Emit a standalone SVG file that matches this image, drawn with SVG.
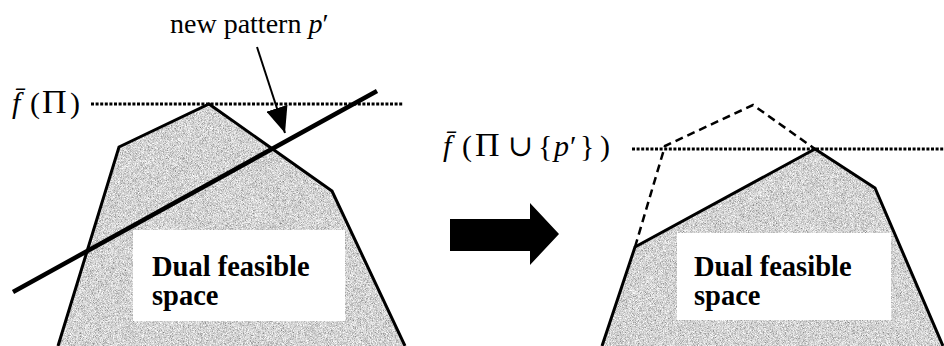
<svg xmlns="http://www.w3.org/2000/svg" width="944" height="346" viewBox="0 0 944 346">
  <style>
    text { font-family: "Liberation Serif", "DejaVu Serif", "Times New Roman", serif; fill: #000; }
    .math { font-size: 30px; }
    .big { font-size: 34px; }
    .it { font-style: italic; }
    .lbl { font-size: 28px; }
    .box { fill: #fff; }
    .boxtxt { font-size: 28.5px; font-weight: bold; }
    .region { fill: #a8a8a8; filter: url(#grain); }
    .edge { fill: none; stroke: #000; stroke-width: 3; stroke-linejoin: miter; }
    .dotted { stroke: #000; stroke-width: 3; stroke-dasharray: 3 1.6; fill: none; }
    .dashed { stroke: #000; stroke-width: 2.5; stroke-dasharray: 8 5; fill: none; }
  </style>
  <defs>
    <filter id="grain" x="0" y="0" width="100%" height="100%" filterUnits="objectBoundingBox">
      <feTurbulence type="fractalNoise" baseFrequency="1.4" numOctaves="2" seed="4" result="n"/>
      <feColorMatrix in="n" type="matrix" values="1.2 0 0 0 0.05  1.2 0 0 0 0.05  1.2 0 0 0 0.05  0 0 0 0 1" result="g"/>
      <feComposite in="g" in2="SourceGraphic" operator="in"/>
    </filter>
    <marker id="ah" markerWidth="26" markerHeight="22" refX="26" refY="11" orient="auto" markerUnits="userSpaceOnUse">
      <path d="M0,0 L26,11 L0,22 Z" fill="#000"/>
    </marker>
  </defs>

  <!-- Left: feasible region -->
  <g id="left-region">
    <polygon class="region" points="58,346 119,147 209,104 332,191 405,346"/>
    <polyline class="edge" points="58,346 119,147 209,104 332,191 405,346"/>
  </g>

  <!-- Right: feasible region -->
  <g id="right-region">
    <polygon class="region" points="602,346 635,247 815,149 875,188 943,346"/>
    <polyline class="edge" points="602,346 635,247 815,149 875,188 943,346"/>
  </g>

  <g id="connectors">
    <line class="dotted" x1="91" y1="104" x2="403" y2="104"/>
    <line x1="13" y1="292" x2="377" y2="91" stroke="#000" stroke-width="4.5"/>
    <line x1="257" y1="47" x2="285" y2="133" stroke="#000" stroke-width="2" marker-end="url(#ah)"/>
    <line class="dotted" x1="632" y1="149" x2="944" y2="149"/>
    <polyline class="dashed" points="635,247 665,146 753,105 815,149"/>
    <polygon points="450,219 530,219 530,203 559,234 530,265 530,251 450,251" fill="#000"/>
  </g>

  <g id="label-new-pattern">
    <text class="lbl" x="170" y="33">new pattern <tspan class="it">p</tspan>′</text>
  </g>

  <g id="label-f-left">
    <text class="math" y="113"><tspan class="it" x="12">f̄</tspan><tspan x="30">(</tspan><tspan class="big" x="42">Π</tspan><tspan x="70">)</tspan></text>
  </g>

  <g id="label-f-right">
    <text class="math" y="156"><tspan class="it" x="443">f̄</tspan><tspan x="462">(</tspan><tspan class="big" x="475">Π</tspan><tspan x="508">∪</tspan><tspan x="538">{</tspan><tspan class="it" x="554">p</tspan><tspan x="570">′</tspan><tspan x="580">}</tspan><tspan x="600">)</tspan></text>
  </g>

  <g id="box-left">
    <rect class="box" x="133" y="230" width="212" height="91"/>
    <text class="boxtxt" x="152" y="276">Dual feasible</text>
    <text class="boxtxt" x="152" y="305">space</text>
  </g>

  <g id="box-right">
    <rect class="box" x="677" y="233" width="214" height="87"/>
    <text class="boxtxt" x="694" y="276">Dual feasible</text>
    <text class="boxtxt" x="694" y="305">space</text>
  </g>
</svg>
